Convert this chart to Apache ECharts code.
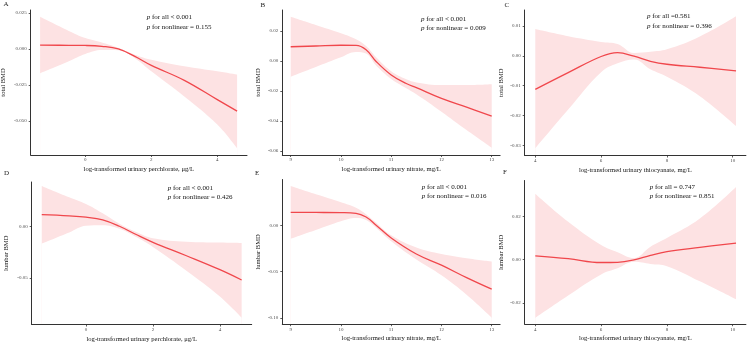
<!DOCTYPE html>
<html>
<head>
<meta charset="utf-8">
<script src="https://cdn.jsdelivr.net/npm/echarts@6/dist/echarts.min.js"></script>
<style>html,body{margin:0;padding:0;background:#fff}#c{width:748px;height:344px}</style>
</head>
<body>
<div id="c"></div>
<script>
// ---------- data ----------
const panelLetters = ['A', 'B', 'C', 'D', 'E', 'F'];
const xTitles = [
  'log-transformed urinary perchlorate, μg/L',
  'log-transformed urinary nitrate, mg/L',
  'log-transformed urinary thiocyanate, mg/L',
  'log-transformed urinary perchlorate, μg/L',
  'log-transformed urinary nitrate, mg/L',
  'log-transformed urinary thiocyanate, mg/L'
];
const yTitles = ['total BMD', 'total BMD', 'total BMD', 'lumbar BMD', 'lumbar BMD', 'lumbar BMD'];
const pAll = ['< 0.001', '< 0.001', '=0.581', '< 0.001', '< 0.001', '= 0.747'];
const pNonlinear = ['= 0.155', '= 0.009', '= 0.396', '= 0.426', '= 0.016', '= 0.851'];

// Panel A: total BMD vs perchlorate
const xA = [-1.37, -0.5, 0, 0.5, 1, 1.5, 2, 3, 4, 4.6];
const fitA = [0.0026, 0.0025, 0.0024, 0.0018, 0.0000, -0.0052, -0.0114, -0.0218, -0.0352, -0.0432];
const upA = [0.0223, 0.0125, 0.0075, 0.0045, 0.0008, -0.0040, -0.0075, -0.0120, -0.0155, -0.0178];
const lowA = [-0.0168, -0.0085, -0.0035, -0.0008, -0.0010, -0.0064, -0.0155, -0.0330, -0.0525, -0.0690];

// Panel B: total BMD vs nitrate
const xB = [9, 9.5, 10, 10.3, 10.5, 10.7, 11, 11.3, 11.5, 12, 12.5, 13];
const fitB = [0.0095, 0.0100, 0.0105, 0.0104, 0.0075, -0.0003, -0.0093, -0.0150, -0.0178, -0.0250, -0.0308, -0.0367];
const upB = [0.0295, 0.0240, 0.0185, 0.0145, 0.0100, 0.0025, -0.0068, -0.0122, -0.0143, -0.0160, -0.0160, -0.0155];
const lowB = [-0.0105, -0.0040, 0.0025, 0.0060, 0.0050, -0.0030, -0.0120, -0.0182, -0.0222, -0.0338, -0.0460, -0.0578];

// Panel C: total BMD vs thiocyanate
const xC = [4, 5, 6, 6.5, 7, 7.5, 8, 9, 10.1];
const fitC = [-0.0112, -0.0056, -0.0002, 0.0011, -0.0001, -0.0018, -0.0028, -0.0038, -0.0050];
const upC = [0.0090, 0.0066, 0.0047, 0.0040, 0.0010, 0.0014, 0.0022, 0.0065, 0.0133];
const lowC = [-0.0310, -0.0180, -0.0055, -0.0025, -0.0012, -0.0045, -0.0070, -0.0135, -0.0235];

// Panel D: lumbar BMD vs perchlorate
const xD = [-1.32, -0.5, 0, 0.5, 1, 1.5, 2, 3, 4, 4.65];
const fitD = [0.0112, 0.0100, 0.0088, 0.0062, 0.0000, -0.0080, -0.0155, -0.0285, -0.0420, -0.0520];
const upD = [0.0390, 0.0280, 0.0215, 0.0125, 0.0025, -0.0055, -0.0115, -0.0150, -0.0158, -0.0162];
const lowD = [-0.0168, -0.0060, 0.0005, 0.0010, -0.0025, -0.0105, -0.0200, -0.0430, -0.0680, -0.0885];

// Panel E: lumbar BMD vs nitrate
const xE = [9, 9.5, 10, 10.3, 10.5, 10.7, 11, 11.5, 12, 12.5, 13];
const fitE = [0.0140, 0.0139, 0.0137, 0.0130, 0.0090, 0.0002, -0.0137, -0.0310, -0.0430, -0.0565, -0.0690];
const upE = [0.0424, 0.0335, 0.0250, 0.0190, 0.0120, 0.0028, -0.0108, -0.0240, -0.0310, -0.0355, -0.0390];
const lowE = [-0.0145, -0.0050, 0.0045, 0.0080, 0.0058, -0.0025, -0.0172, -0.0370, -0.0540, -0.0750, -0.0997];

// Panel F: lumbar BMD vs thiocyanate
const xF = [4, 5, 6, 6.5, 7, 7.5, 8, 9, 10.1];
const fitF = [0.0018, 0.0005, -0.0013, -0.0012, -0.0001, 0.0020, 0.0037, 0.0057, 0.0077];
const upF = [0.0305, 0.0175, 0.0068, 0.0035, 0.0008, 0.0060, 0.0100, 0.0190, 0.0336];
const lowF = [-0.0268, -0.0165, -0.0068, -0.0040, -0.0010, -0.0020, -0.0030, -0.0100, -0.0183];

// tick values and labels
const xTicksPerc = [0, 2, 4];
const xTickLabelsPerc = ['0', '2', '4'];
const xTicksNit = [9, 10, 11, 12, 13];
const xTickLabelsNit = ['9', '10', '11', '12', '13'];
const xTicksThio = [4, 6, 8, 10];
const xTickLabelsThio = ['4', '6', '8', '10'];
const yTicksA = [0.025, 0, -0.025, -0.05];
const yTickLabelsA = ['0.025', '0.000', '-0.025', '-0.050'];
const yTicksB = [0.02, 0, -0.02, -0.04, -0.06];
const yTickLabelsB = ['0.02', '0.00', '-0.02', '-0.04', '-0.06'];
const yTicksC = [0.01, 0, -0.01, -0.02, -0.03];
const yTickLabelsC = ['0.01', '0.00', '-0.01', '-0.02', '-0.03'];
const yTicksD = [0, -0.05];
const yTickLabelsD = ['0.00', '-0.05'];
const yTicksE = [0.05, 0, -0.05, -0.10];
const yTickLabelsE = ['0.05', '0.00', '-0.05', '-0.10'];
const yTicksF = [0.02, 0, -0.02];
const yTickLabelsF = ['0.02', '0.00', '-0.02'];

// ---------- assembly ----------
const panels = [
  {x: xA, fit: fitA, up: upA, low: lowA, xt: xTicksPerc, xl: xTickLabelsPerc, yt: yTicksA, yl: yTickLabelsA},
  {x: xB, fit: fitB, up: upB, low: lowB, xt: xTicksNit, xl: xTickLabelsNit, yt: yTicksB, yl: yTickLabelsB},
  {x: xC, fit: fitC, up: upC, low: lowC, xt: xTicksThio, xl: xTickLabelsThio, yt: yTicksC, yl: yTickLabelsC},
  {x: xD, fit: fitD, up: upD, low: lowD, xt: xTicksPerc, xl: xTickLabelsPerc, yt: yTicksD, yl: yTickLabelsD},
  {x: xE, fit: fitE, up: upE, low: lowE, xt: xTicksNit, xl: xTickLabelsNit, yt: yTicksE, yl: yTickLabelsE},
  {x: xF, fit: fitF, up: upF, low: lowF, xt: xTicksThio, xl: xTickLabelsThio, yt: yTicksF, yl: yTickLabelsF}
];

// layout (pixel positions / axis extents)
const layout = [
  {left: 30.7, top: 10, width: 216.3, height: 145, xmin: -1.655, xmax: 4.9, ymin: -0.0736, ymax: 0.0270, yGap: 24,
   letter: [3.5, 4.5], ptext: [146.7, 11.7], lh: 10},
  {left: 282.3, top: 10, width: 217.8, height: 145, xmin: 8.833, xmax: 13.167, ymin: -0.0627, ymax: 0.0340, yGap: 20.6,
   letter: [260.5, 5.3], ptext: [421, 14.2], lh: 9.5},
  {left: 524.7, top: 10, width: 221.2, height: 145.5, xmin: 3.678, xmax: 10.4, ymin: -0.0334, ymax: 0.0154, yGap: 20,
   letter: [504.5, 5.5], ptext: [647, 10.7], lh: 10},
  {left: 31.7, top: 182, width: 220, height: 142.5, xmin: -1.62, xmax: 4.95, ymin: -0.0950, ymax: 0.0428, yGap: 21.7,
   letter: [4, 173.5], ptext: [167.7, 183.2], lh: 9},
  {left: 282.3, top: 179.5, width: 217.8, height: 144.7, xmin: 8.833, xmax: 13.167, ymin: -0.1068, ymax: 0.0495, yGap: 20.6,
   letter: [255, 173.5], ptext: [421.7, 182.5], lh: 9},
  {left: 524.7, top: 180.5, width: 221.2, height: 143.7, xmin: 3.678, xmax: 10.4, ymin: -0.0298, ymax: 0.0366, yGap: 20,
   letter: [503, 173], ptext: [649.7, 182.5], lh: 9}
];

const FONT = "'Liberation Serif', 'Times New Roman', serif";
const LINE_COLOR = '#f0474c';
const BAND_COLOR = '#fde2e3';
const AXIS_COLOR = '#333333';
const TICK_TEXT = '#4d4d4d';

const grids = [], xAxes = [], yAxes = [], series = [], graphics = [];

panels.forEach((p, i) => {
  const L = layout[i];
  grids.push({left: L.left, top: L.top, width: L.width, height: L.height, containLabel: false, outerBoundsMode: 'none'});
  xAxes.push({
    type: 'value', gridIndex: i, min: L.xmin, max: L.xmax, z: 5,
    name: xTitles[i], nameLocation: 'middle', nameGap: 11, nameMoveOverlap: false,
    nameTextStyle: {fontFamily: FONT, fontSize: 6.6, color: '#111'},
    axisLine: {show: true, onZero: false, lineStyle: {color: AXIS_COLOR, width: 1}},
    axisTick: {show: true, length: 2, customValues: p.xt, lineStyle: {color: AXIS_COLOR, width: 0.8}},
    axisLabel: {show: true, margin: 2.5, fontFamily: FONT, fontSize: 5, color: TICK_TEXT, customValues: p.xt,
      formatter: v => p.xl[p.xt.indexOf(v)]},
    splitLine: {show: false}
  });
  yAxes.push({
    type: 'value', gridIndex: i, min: L.ymin, max: L.ymax, z: 5,
    name: yTitles[i], nameLocation: 'middle', nameGap: L.yGap, nameRotate: 90, nameMoveOverlap: false,
    nameTextStyle: {fontFamily: FONT, fontSize: 6.6, color: '#111'},
    axisLine: {show: true, onZero: false, lineStyle: {color: AXIS_COLOR, width: 1}},
    axisTick: {show: true, length: 2, customValues: p.yt, lineStyle: {color: AXIS_COLOR, width: 0.8}},
    axisLabel: {show: true, margin: 4, fontFamily: FONT, fontSize: 5, color: TICK_TEXT, customValues: p.yt,
      formatter: v => p.yl[p.yt.indexOf(v)]},
    splitLine: {show: false}
  });
  const zip = arr => p.x.map((xv, k) => [xv, arr[k]]);
  // upper band boundary, filled pink to axis bottom
  series.push({type: 'line', xAxisIndex: i, yAxisIndex: i, data: zip(p.up), smooth: 0.4, showSymbol: false, silent: true,
    lineStyle: {opacity: 0, width: 0}, areaStyle: {color: BAND_COLOR, opacity: 1, origin: 'start'}, z: 1});
  // lower band boundary, filled white to axis bottom (leaves the band)
  series.push({type: 'line', xAxisIndex: i, yAxisIndex: i, data: zip(p.low), smooth: 0.4, showSymbol: false, silent: true,
    lineStyle: {opacity: 0, width: 0}, areaStyle: {color: '#ffffff', opacity: 1, origin: 'start'}, z: 2});
  // fitted curve
  series.push({type: 'line', xAxisIndex: i, yAxisIndex: i, data: zip(p.fit), smooth: 0.4, showSymbol: false, silent: true,
    lineStyle: {color: LINE_COLOR, width: 1.3}, z: 3});

  graphics.push({type: 'text', left: L.letter[0], top: L.letter[1] - 4, z: 10,
    style: {text: panelLetters[i], font: "7px " + FONT, fill: '#222'}});
  graphics.push({type: 'text', x: L.ptext[0], y: L.ptext[1], z: 10,
    style: {
      text: '{i|p} for all ' + pAll[i] + '\n{i|p} for nonlinear ' + pNonlinear[i],
      fontFamily: FONT, fontSize: 7, fill: '#111', lineHeight: L.lh,
      rich: {i: {fontFamily: FONT, fontSize: 7, fontStyle: 'italic', fill: '#111', lineHeight: L.lh}}
    }});
});

const chart = echarts.init(document.getElementById('c'), null, {renderer: 'canvas'});
chart.setOption({
  animation: false,
  backgroundColor: '#ffffff',
  grid: grids, xAxis: xAxes, yAxis: yAxes, series: series, graphic: graphics
});
</script>
</body>
</html>
